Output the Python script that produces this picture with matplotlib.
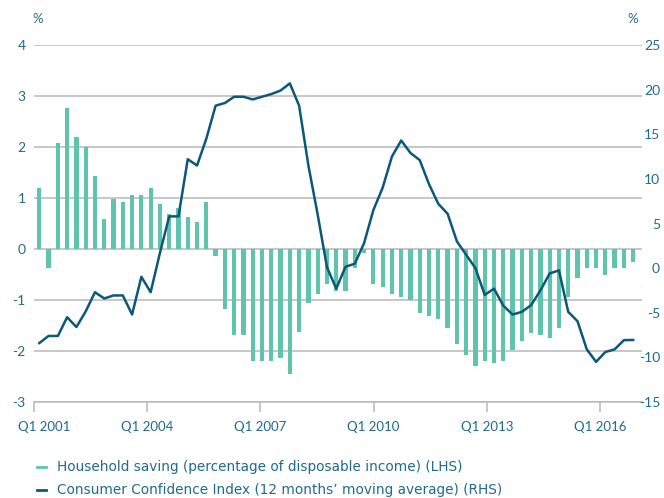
import matplotlib
matplotlib.use("Agg")
import matplotlib.pyplot as plt
import matplotlib.transforms as mtransforms
import numpy as np

plt.rcParams['font.family'] = ['Lato', 'DejaVu Sans']

# Quarterly data, Q1 2001 .. Q1 2017
saving = [1.19, -0.38, 2.07, 2.76, 2.19, 2.0, 1.43, 0.58, 0.99, 0.93, 1.05, 1.05,
          1.19, 0.875, 0.69, 0.81, 0.63, 0.52, 0.93, -0.14, -1.17, -1.69, -1.69, -2.19,
          -2.19, -2.19, -2.13, -2.45, -1.63, -1.06, -0.88, -0.68, -0.82, -0.82, -0.38, -0.08,
          -0.68, -0.74, -0.88, -0.94, -1.0, -1.26, -1.32, -1.37, -1.55, -1.87, -2.07, -2.3,
          -2.19, -2.24, -2.19, -1.99, -1.81, -1.64, -1.69, -1.75, -1.55, -0.94, -0.56, -0.38,
          -0.38, -0.51, -0.38, -0.38, -0.25]
confidence = [-8.4, -7.6, -7.6, -5.5, -6.6, -4.85, -2.7, -3.4, -3.06, -3.06, -5.2, -0.97,
              -2.7, 1.7, 5.8, 5.8, 12.2, 11.5, 14.5, 18.2, 18.5, 19.2, 19.2, 18.9,
              19.2, 19.5, 19.9, 20.7, 18.2, 11.5, 6.0, 0.1, -2.3, 0.15, 0.5, 2.8,
              6.5, 9.0, 12.5, 14.3, 12.9, 12.1, 9.4, 7.2, 6.1, 3.0, 1.5, 0.0,
              -3.0, -2.3, -4.2, -5.2, -4.9, -4.15, -2.5, -0.6, -0.25, -4.9, -5.95, -9.1,
              -10.5, -9.4, -9.1, -8.07, -8.05]
tick_labels = ["Q1 2001", "Q1 2004", "Q1 2007", "Q1 2010", "Q1 2013", "Q1 2016"]
lhs_ticks = [-3, -2, -1, 0, 1, 2, 3, 4]
rhs_ticks = [-15, -10, -5, 0, 5, 10, 15, 20, 25]

bar_color = "#5fc4ad"
line_color = "#0b5878"
text_color = "#1f6b8c"
grid_color = "#bdbdbd"

fig = plt.figure(figsize=(6.64, 4.98), dpi=100)
ax = fig.add_axes([34/664, 1 - 402/498, (642-34)/664, (402-45)/498])
ax2 = ax.twinx()

x = np.arange(len(saving))
ax.bar(x, saving, width=0.46, color=bar_color, zorder=3)
ax2.plot(x, confidence, color=line_color, lw=1.8, zorder=4)

ax.set_ylim(-3, 4)
ax2.set_ylim(-15, 25)
ax.set_xlim(-0.57, 64.95)

ax.set_yticks(lhs_ticks)
ax.set_yticklabels([str(t) for t in lhs_ticks])
ax2.set_yticks(rhs_ticks)
ax2.set_yticklabels([str(t) for t in rhs_ticks], ha='right')

tick_pos = [-0.57 + 12.2 * j for j in range(len(tick_labels))]
ax.set_xticks(tick_pos)
ax.set_xticklabels(tick_labels)

for a in (ax, ax2):
    for s in a.spines.values():
        s.set_visible(False)
ax.spines['bottom'].set_visible(True)
ax.spines['bottom'].set_color(grid_color)
ax.spines['bottom'].set_linewidth(1.2)

ax.grid(axis='y', color=grid_color, lw=1.2, zorder=0)
ax.set_axisbelow(True)
ax.tick_params(axis='y', length=0, pad=6, labelsize=10, labelcolor=text_color)
ax2.tick_params(axis='y', length=0, pad=13, labelsize=10, labelcolor=text_color)
ax.tick_params(axis='x', length=7, width=1.2, color=grid_color, pad=7,
               labelsize=9.5, labelcolor=text_color)

# first x label is nudged right in the reference
first = ax.get_xticklabels()[0]
first.set_transform(first.get_transform() +
                    mtransforms.ScaledTranslation(10/100, 0, fig.dpi_scale_trans))

fig.text(38/664, 1 - 19/498, "%", color=text_color, fontsize=9.5, ha='center', va='center')
fig.text(633/664, 1 - 19/498, "%", color=text_color, fontsize=9.5, ha='center', va='center')

# legend
fig.add_artist(plt.Line2D([37/664, 46/664], [1 - 466.5/498, 1 - 466.5/498], color=bar_color, lw=2))
fig.add_artist(plt.Line2D([37/664, 46/664], [1 - 490/498, 1 - 490/498], color=line_color, lw=2))
fig.text(57/664, 1 - 466.5/498, "Household saving (percentage of disposable income) (LHS)",
         color=text_color, fontsize=9.8, va='center', family=['DejaVu Sans'])
fig.text(57/664, 1 - 490/498, "Consumer Confidence Index (12 months\u2019 moving average) (RHS)",
         color=text_color, fontsize=9.8, va='center', family=['DejaVu Sans'])

fig.savefig("out.png", dpi=100)
